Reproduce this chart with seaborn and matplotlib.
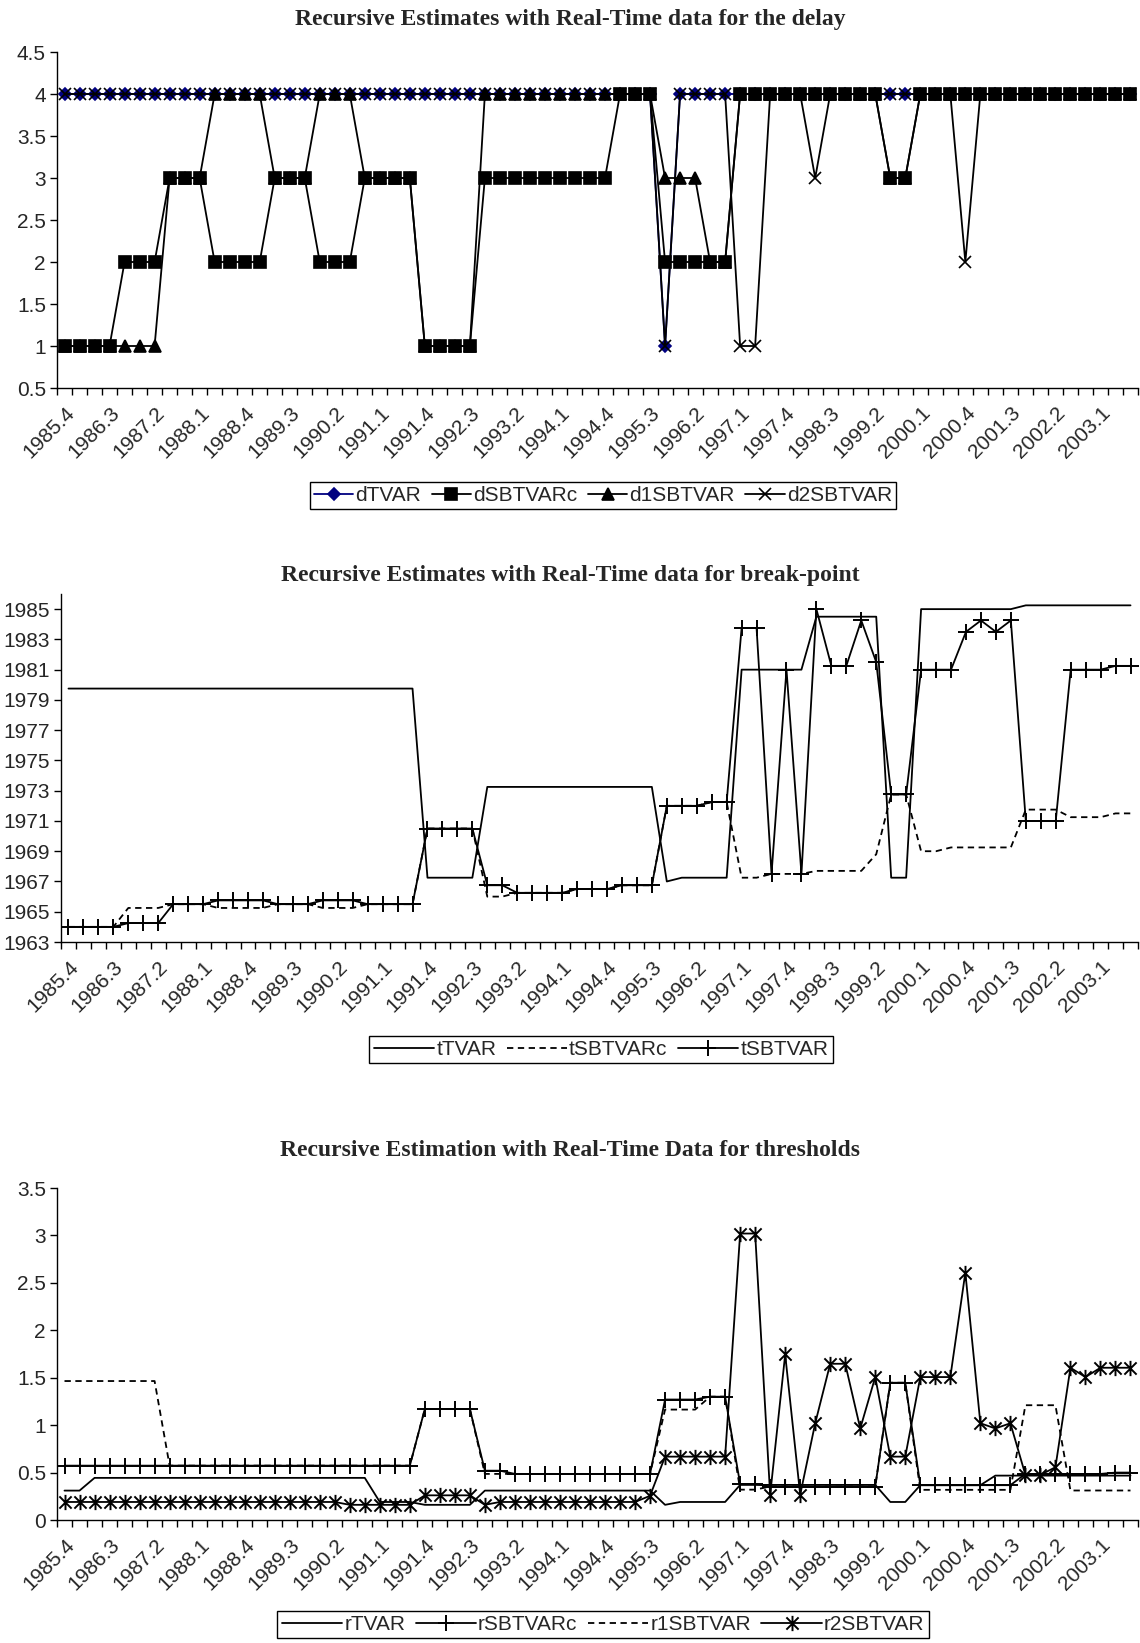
import numpy as np
import matplotlib
matplotlib.use("Agg")
import matplotlib.pyplot as plt
from matplotlib.path import Path
from matplotlib.lines import Line2D
import seaborn as sns

# Quarterly estimation dates 1985.4 ... 2003.3 (72 quarters); every third one is labelled
tick_labels = ["1985.4", "1986.3", "1987.2", "1988.1", "1988.4", "1989.3", "1990.2",
               "1991.1", "1991.4", "1992.3", "1993.2", "1994.1", "1994.4", "1995.3",
               "1996.2", "1997.1", "1997.4", "1998.3", "1999.2", "2000.1", "2000.4",
               "2001.3", "2002.2", "2003.1"]
n_quarters = 72

# ---- delay estimates ----
dTVAR = [4, 4, 4, 4, 4, 4, 4, 4, 4, 4, 4, 4,
         4, 4, 4, 4, 4, 4, 4, 4, 4, 4, 4, 4,
         4, 4, 4, 4, 4, 4, 4, 4, 4, 4, 4, 4,
         4, 4, 4, 4, 1, 4, 4, 4, 4, 4, 4, 4,
         4, 4, 4, 4, 4, 4, 4, 4, 4, 4, 4, 4,
         4, 4, 4, 4, 4, 4, 4, 4, 4, 4, 4, 4]
dSBTVARc = [1, 1, 1, 1, 2, 2, 2, 3, 3, 3, 2, 2,
            2, 2, 3, 3, 3, 2, 2, 2, 3, 3, 3, 3,
            1, 1, 1, 1, 3, 3, 3, 3, 3, 3, 3, 3,
            3, 4, 4, 4, 2, 2, 2, 2, 2, 4, 4, 4,
            4, 4, 4, 4, 4, 4, 4, 3, 3, 4, 4, 4,
            4, 4, 4, 4, 4, 4, 4, 4, 4, 4, 4, 4]
d1SBTVAR = [1, 1, 1, 1, 1, 1, 1, 3, 3, 3, 4, 4,
            4, 4, 3, 3, 3, 4, 4, 4, 3, 3, 3, 3,
            1, 1, 1, 1, 4, 4, 4, 4, 4, 4, 4, 4,
            4, 4, 4, 4, 3, 3, 3, 2, 2, 4, 4, 4,
            4, 4, 4, 4, 4, 4, 4, 3, 3, 4, 4, 4,
            4, 4, 4, 4, 4, 4, 4, 4, 4, 4, 4, 4]
d2SBTVAR = [4, 4, 4, 4, 4, 4, 4, 4, 4, 4, 4, 4,
            4, 4, 4, 4, 4, 4, 4, 4, 4, 4, 4, 4,
            4, 4, 4, 4, 4, 4, 4, 4, 4, 4, 4, 4,
            4, 4, 4, 4, 1, 4, 4, 4, 4, 1, 1, 4,
            4, 4, 3, 4, 4, 4, 4, 4, 4, 4, 4, 4,
            2, 4, 4, 4, 4, 4, 4, 4, 4, 4, 4, 4]

# ---- break-point estimates ----
tTVAR = [1979.75, 1979.75, 1979.75, 1979.75, 1979.75, 1979.75, 1979.75, 1979.75, 1979.75, 1979.75, 1979.75, 1979.75,
         1979.75, 1979.75, 1979.75, 1979.75, 1979.75, 1979.75, 1979.75, 1979.75, 1979.75, 1979.75, 1979.75, 1979.75,
         1967.25, 1967.25, 1967.25, 1967.25, 1973.25, 1973.25, 1973.25, 1973.25, 1973.25, 1973.25, 1973.25, 1973.25,
         1973.25, 1973.25, 1973.25, 1973.25, 1967.0, 1967.25, 1967.25, 1967.25, 1967.25, 1981.0, 1981.0, 1981.0,
         1981.0, 1981.0, 1984.5, 1984.5, 1984.5, 1984.5, 1984.5, 1967.25, 1967.25, 1985.0, 1985.0, 1985.0,
         1985.0, 1985.0, 1985.0, 1985.0, 1985.25, 1985.25, 1985.25, 1985.25, 1985.25, 1985.25, 1985.25, 1985.25]
tSBTVARc = [1964.0, 1964.0, 1964.0, 1964.0, 1965.25, 1965.25, 1965.25, 1965.5, 1965.5, 1965.5, 1965.25, 1965.25,
            1965.25, 1965.25, 1965.5, 1965.5, 1965.5, 1965.25, 1965.25, 1965.25, 1965.5, 1965.5, 1965.5, 1965.5,
            1970.5, 1970.5, 1970.5, 1970.5, 1966.0, 1966.0, 1966.25, 1966.25, 1966.25, 1966.25, 1966.5, 1966.5,
            1966.5, 1966.75, 1966.75, 1966.75, 1972.0, 1972.0, 1972.0, 1972.25, 1972.25, 1967.25, 1967.25, 1967.5,
            1967.5, 1967.5, 1967.7, 1967.7, 1967.7, 1967.7, 1968.8, 1972.75, 1972.75, 1969.0, 1969.0, 1969.25,
            1969.25, 1969.25, 1969.25, 1969.25, 1971.75, 1971.75, 1971.75, 1971.25, 1971.25, 1971.25, 1971.5, 1971.5]
tSBTVAR = [1964.0, 1964.0, 1964.0, 1964.0, 1964.25, 1964.25, 1964.25, 1965.5, 1965.5, 1965.5, 1965.75, 1965.75,
           1965.75, 1965.75, 1965.5, 1965.5, 1965.5, 1965.75, 1965.75, 1965.75, 1965.5, 1965.5, 1965.5, 1965.5,
           1970.5, 1970.5, 1970.5, 1970.5, 1966.75, 1966.75, 1966.25, 1966.25, 1966.25, 1966.25, 1966.5, 1966.5,
           1966.5, 1966.75, 1966.75, 1966.75, 1972.0, 1972.0, 1972.0, 1972.25, 1972.25, 1983.75, 1983.75, 1967.5,
           1981.0, 1967.5, 1985.0, 1981.25, 1981.25, 1984.25, 1981.5, 1972.75, 1972.75, 1981.0, 1981.0, 1981.0,
           1983.5, 1984.25, 1983.5, 1984.25, 1971.0, 1971.0, 1971.0, 1981.0, 1981.0, 1981.0, 1981.25, 1981.25]

# ---- threshold estimates ----
rTVAR = [0.31, 0.31, 0.444, 0.444, 0.444, 0.444, 0.444, 0.444, 0.444, 0.444, 0.444, 0.444,
         0.444, 0.444, 0.444, 0.444, 0.444, 0.444, 0.444, 0.444, 0.444, 0.19, 0.19, 0.19,
         0.16, 0.16, 0.16, 0.16, 0.31, 0.31, 0.31, 0.31, 0.31, 0.31, 0.31, 0.31,
         0.31, 0.31, 0.31, 0.31, 0.16, 0.19, 0.19, 0.19, 0.19, 0.37, 0.37, 0.37,
         0.37, 0.37, 0.37, 0.37, 0.37, 0.37, 0.37, 0.19, 0.19, 0.367, 0.367, 0.367,
         0.367, 0.367, 0.468, 0.468, 0.468, 0.468, 0.468, 0.468, 0.468, 0.468, 0.468, 0.468]
rSBTVARc = [0.573, 0.573, 0.573, 0.573, 0.573, 0.573, 0.573, 0.573, 0.573, 0.573, 0.573, 0.573,
            0.573, 0.573, 0.573, 0.573, 0.573, 0.573, 0.573, 0.573, 0.573, 0.573, 0.573, 0.573,
            1.17, 1.17, 1.17, 1.17, 0.52, 0.52, 0.486, 0.486, 0.486, 0.486, 0.486, 0.486,
            0.486, 0.486, 0.486, 0.486, 1.27, 1.27, 1.27, 1.30, 1.30, 0.38, 0.38, 0.353,
            0.353, 0.353, 0.353, 0.353, 0.353, 0.353, 0.353, 1.447, 1.447, 0.367, 0.367, 0.367,
            0.367, 0.367, 0.367, 0.367, 0.486, 0.486, 0.486, 0.486, 0.486, 0.486, 0.50, 0.50]
r1SBTVAR = [1.465, 1.465, 1.465, 1.465, 1.465, 1.465, 1.465, 0.573, 0.573, 0.573, 0.573, 0.573,
            0.573, 0.573, 0.573, 0.573, 0.573, 0.573, 0.573, 0.573, 0.573, 0.573, 0.573, 0.573,
            1.17, 1.17, 1.17, 1.17, 0.486, 0.486, 0.486, 0.486, 0.486, 0.486, 0.486, 0.486,
            0.486, 0.486, 0.486, 0.486, 1.164, 1.164, 1.164, 1.30, 1.30, 0.32, 0.32, 0.353,
            0.353, 0.353, 0.353, 0.353, 0.353, 0.353, 0.353, 1.447, 1.447, 0.318, 0.318, 0.318,
            0.318, 0.318, 0.318, 0.318, 1.21, 1.21, 1.21, 0.311, 0.311, 0.311, 0.311, 0.311]
r2SBTVAR = [0.19, 0.19, 0.19, 0.19, 0.19, 0.19, 0.19, 0.19, 0.19, 0.19, 0.19, 0.19,
            0.19, 0.19, 0.19, 0.19, 0.19, 0.19, 0.19, 0.16, 0.16, 0.16, 0.16, 0.16,
            0.26, 0.26, 0.26, 0.26, 0.16, 0.19, 0.19, 0.19, 0.19, 0.19, 0.19, 0.19,
            0.19, 0.19, 0.19, 0.255, 0.668, 0.668, 0.668, 0.668, 0.668, 3.02, 3.02, 0.266,
            1.745, 0.266, 1.02, 1.647, 1.647, 0.965, 1.507, 0.668, 0.668, 1.507, 1.507, 1.507,
            2.608, 1.02, 0.965, 1.02, 0.476, 0.476, 0.556, 1.605, 1.507, 1.605, 1.605, 1.605]

sns.set_style("white")
plt.rcParams["font.family"] = ["Liberation Sans", "DejaVu Sans"]

W, H = 1140, 1643
fig = plt.figure(figsize=(W / 100, H / 100), dpi=100)

# Excel-style star marker: an X crossed by a vertical bar
star_marker = Path([(-1, -1), (1, 1), (-1, 1), (1, -1), (0, -1.25), (0, 1.25)],
                   [Path.MOVETO, Path.LINETO, Path.MOVETO, Path.LINETO, Path.MOVETO, Path.LINETO])

x = np.arange(n_quarters)
LW = 1.3
TICK_FS = 15
TITLE_FS = 17
DASH = (0, (3.5, 2.5))
SERIF = ["Liberation Serif", "DejaVu Serif"]


def make_axes(left_px, top_px, bottom_px, right_px=1138):
    return fig.add_axes([left_px / W, 1 - bottom_px / H,
                         (right_px - left_px) / W, (bottom_px - top_px) / H])


def style_axes(ax, ylo, yhi, yticks, fmt):
    ax.set_xlim(-0.5, n_quarters - 0.5)
    ax.set_ylim(ylo, yhi)
    for side in ("top", "right"):
        ax.spines[side].set_visible(False)
    for side in ("left", "bottom"):
        ax.spines[side].set_color("black")
        ax.spines[side].set_linewidth(1.0)
    ax.set_xticks(np.arange(0, n_quarters, 3)[:len(tick_labels)])
    ax.set_xticklabels(tick_labels, rotation=45, ha="right", va="top",
                       rotation_mode="anchor", fontsize=TICK_FS)
    ax.set_xticks(np.arange(-0.5, n_quarters, 1), minor=True)
    ax.tick_params(axis="x", which="major", length=0, pad=11)
    ax.tick_params(axis="x", which="minor", length=5, width=1, color="black",
                   direction="out", bottom=True)
    ax.set_yticks(yticks)
    ax.set_yticklabels([fmt(v) for v in yticks], fontsize=TICK_FS)
    ax.tick_params(axis="y", length=5, width=1, color="black", direction="out",
                   left=True, pad=3)
    ax.set_xlabel("")
    ax.set_ylabel("")
    ax.grid(False)


def series(ax, y, color="black", ls="-", marker=None, ms=7, mfc=None, mew=1.2, z=2):
    kw = dict(color=color, linewidth=LW, linestyle=ls, zorder=z, legend=False)
    if marker is not None:
        kw.update(marker=marker, markersize=ms, markeredgecolor=color,
                  markerfacecolor=mfc if mfc is not None else color, markeredgewidth=mew)
    sns.lineplot(x=x, y=y, ax=ax, **kw)


def handle(color="black", ls="-", marker=None, ms=7, mew=1.2):
    return Line2D([], [], color=color, linewidth=LW, linestyle=ls, marker=marker,
                  markersize=ms, markeredgecolor=color, markerfacecolor=color,
                  markeredgewidth=mew)


def legend(handles, labels, cx_px, top_px, hlen):
    fig.legend(handles, labels, loc="upper center",
               bbox_to_anchor=(cx_px / W, 1 - top_px / H), bbox_transform=fig.transFigure,
               ncol=len(labels), frameon=True, fancybox=False, edgecolor="black",
               framealpha=1, fontsize=TICK_FS, handlelength=hlen, handletextpad=0.1,
               columnspacing=0.5, borderpad=0.2, borderaxespad=0)


def num(v):
    return f"{v:g}"


# ---------------- delay ----------------
ax1 = make_axes(57, 52, 388)
series(ax1, dTVAR, color="#000080", marker="D", ms=6, z=2)
series(ax1, d2SBTVAR, marker="x", ms=8, z=3)
series(ax1, d1SBTVAR, marker="^", ms=8, z=4)
series(ax1, dSBTVARc, marker="s", ms=8, z=5)
style_axes(ax1, 0.5, 4.5, np.arange(0.5, 4.51, 0.5), num)
fig.text(0.5, 1 - 19 / H, "Recursive Estimates with Real-Time data for the delay",
         ha="center", va="center", fontsize=TITLE_FS, fontweight="bold", family=SERIF)
legend([handle("#000080", marker="D", ms=6), handle(marker="s", ms=8),
        handle(marker="^", ms=8), handle(marker="x", ms=8)],
       ["dTVAR", "dSBTVARc", "d1SBTVAR", "d2SBTVAR"], 603, 482, 1.9)

# ---------------- break-point ----------------
ax2 = make_axes(61, 594, 942)
series(ax2, tTVAR, z=2)
series(ax2, tSBTVARc, ls=DASH, z=3)
series(ax2, tSBTVAR, marker="+", ms=11, mew=1.4, z=4)
style_axes(ax2, 1963, 1986, np.arange(1963, 1986, 2), lambda v: f"{int(v)}")
fig.text(0.5, 1 - 575 / H, "Recursive Estimates with Real-Time data for break-point",
         ha="center", va="center", fontsize=TITLE_FS, fontweight="bold", family=SERIF)
legend([handle(), handle(ls=DASH), handle(marker="+", ms=11, mew=1.4)],
       ["tTVAR", "tSBTVARc", "tSBTVAR"], 601, 1036, 2.9)

# ---------------- thresholds ----------------
ax3 = make_axes(57, 1188, 1520)
series(ax3, rTVAR, z=2)
series(ax3, r1SBTVAR, ls=DASH, z=3)
series(ax3, rSBTVARc, marker="+", ms=11, mew=1.4, z=4)
series(ax3, r2SBTVAR, marker=star_marker, ms=11, mfc="none", mew=1.4, z=5)
style_axes(ax3, 0, 3.5, np.arange(0, 3.51, 0.5), num)
fig.text(0.5, 1 - 1151 / H, "Recursive Estimation with Real-Time Data for thresholds",
         ha="center", va="center", fontsize=TITLE_FS, fontweight="bold", family=SERIF)
legend([handle(), handle(marker="+", ms=11, mew=1.4), handle(ls=DASH),
        handle(marker=star_marker, ms=11, mew=1.4)],
       ["rTVAR", "rSBTVARc", "r1SBTVAR", "r2SBTVAR"], 603, 1611, 2.9)

fig.savefig("out.png", dpi=100, facecolor="white")
